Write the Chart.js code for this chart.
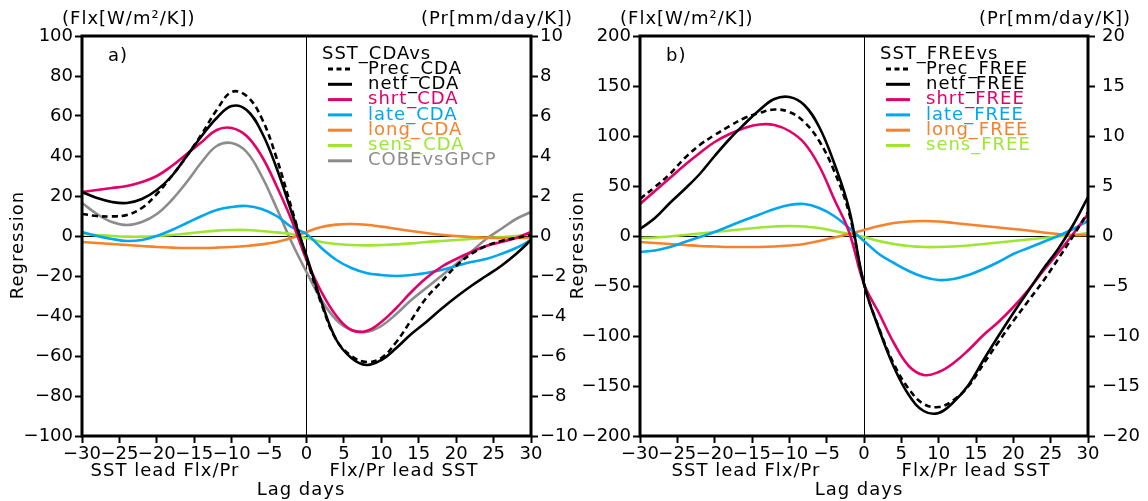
<!DOCTYPE html>
<html>
<head>
<meta charset="utf-8">
<script src="https://cdn.jsdelivr.net/npm/chart.js@4.4.1/dist/chart.umd.min.js"></script>
<style>
  html, body { margin: 0; padding: 0; background: #fff; }
  #wrap { position: relative; width: 1148px; height: 501px; overflow: hidden; }
  .panel { position: absolute; top: 0; height: 501px; }
  #boxA { left: 0; width: 600px; }
  #boxB { left: 560px; width: 588px; }
</style>
</head>
<body>
<div id="wrap">
  <div class="panel" id="boxA"><canvas id="chartA" width="600" height="501"></canvas></div>
  <div class="panel" id="boxB"><canvas id="chartB" width="588" height="501"></canvas></div>
</div>
<script>
// lag in days (negative = SST leads flux/precip)
const lagDays = [-30, -28, -26, -24, -22, -20, -18, -16, -14, -12, -10, -8, -6, -4, -2, 0,
                 2, 4, 6, 8, 10, 12, 14, 16, 18, 20, 22, 24, 26, 28, 30];

// panel a) SST_CDA regressions (flux W/m2/K, precip mm/day/K)
const precCDA  = [1.1, 1.0, 0.98, 1.05, 1.4, 2.1, 3.0, 4.0, 5.1, 6.3, 7.2, 7.0, 5.9, 3.9, 1.4, -1.1,
                  -3.4, -5.2, -6.0, -6.3, -6.1, -5.3, -4.2, -3.1, -2.3, -1.5, -0.9, -0.5, -0.25, -0.1, 0.05];
const netfCDA  = [22, 19, 17, 16.5, 18.5, 23, 30, 40, 50, 59, 65, 63, 52, 34, 12, -10,
                  -33, -52, -61, -64.5, -62, -56, -49, -43, -36.5, -30.5, -25, -20, -15, -9, -2];
const shrtCDA  = [22, 23, 24, 25, 27, 30, 35, 41, 47, 53, 54, 50, 40, 25, 8, -12,
                  -28, -40, -47, -47.5, -43, -36, -28, -21, -15.5, -11.5, -8, -5, -3, -1, 2];
const lateCDA  = [2, 0, -1.5, -2.5, -2, 0, 3, 6.5, 10, 13, 14.5, 15, 13.5, 10, 4.5, 1,
                  -6, -12, -16, -18.5, -19.5, -20, -19.5, -18.5, -17, -15, -13, -11.5, -9, -6, -2];
const longCDA  = [-3, -3.5, -4, -4.5, -5, -5.5, -5.8, -6, -6, -5.8, -5.5, -5, -4.2, -3, -1, 2,
                  4.5, 5.7, 6, 5.6, 4.7, 3.6, 2.5, 1.5, 0.6, 0, -0.5, -0.8, -1, -1, -1];
const sensCDA  = [1, 0.5, 0, -0.3, -0.3, 0, 0.5, 1.2, 2, 2.7, 3, 3, 2.5, 1.8, 1, -1,
                  -3, -4, -4.5, -4.7, -4.5, -4.2, -3.7, -3, -2.5, -2, -1.5, -1, -0.5, 0, 1];
const cobeGPCP = [1.65, 1.1, 0.7, 0.55, 0.7, 1.1, 1.8, 2.7, 3.7, 4.5, 4.65, 4.2, 3.0, 1.4, -0.3, -1.8,
                  -3.2, -4.2, -4.7, -4.8, -4.5, -3.9, -3.2, -2.6, -2.0, -1.4, -0.8, -0.15, 0.35, 0.85, 1.2];

// panel b) SST_FREE regressions
const precFREE = [3.7, 4.9, 6.2, 7.8, 9.1, 10.1, 11.0, 11.8, 12.3, 12.65, 12.4, 11.4, 9.5, 6.5, 2.3, -4.8,
                  -9.2, -12.8, -15.3, -16.8, -17.1, -16.4, -15.0, -12.8, -10.6, -8.5, -6.5, -4.5, -2.3, 0, 2.4];
const netfFREE = [7, 18, 33, 47, 62, 80, 97, 112, 126, 137, 139, 131, 109, 73, 27, -48,
                  -93, -131, -159, -175, -177, -166, -149, -124, -100, -77, -55, -33, -13, 11, 39];
const shrtFREE = [32, 45, 58, 71, 83, 94, 102, 108, 111.5, 111, 105, 93, 70, 37, 4, -48,
                  -77, -107, -130, -139, -136, -127, -114, -99, -86, -71, -54, -35, -17, 2, 22];
const lateFREE = [-16, -14.5, -11, -6, -1, 4, 10, 16, 21.5, 27, 31, 32, 28, 20, 8, -5,
                  -18, -27, -35, -41, -44, -43, -39, -33, -26, -18, -12, -6, 0, 7, 15];
const longFREE = [-6, -7, -8, -9, -10, -10.5, -11, -11, -11, -10.5, -9.5, -8, -5, -1.5, 2, 6,
                  10, 13, 14.5, 15, 14.5, 13, 11.5, 10, 8.5, 7, 5.5, 3.5, 2, 1, 1];
const sensFREE = [-2, -1.5, -0.5, 1, 2.5, 4, 5.5, 7, 8.5, 9.5, 10, 9.5, 8, 5, 2, -1,
                  -5, -8, -10, -11, -11, -10.5, -9.5, -8, -6.5, -5, -3.5, -2, -0.5, 1, 3];

// axis ranges [min, max, step]
const fluxAxisA = [-100, 100, 20];
const precAxisA = [-10, 10, 2];
const fluxAxisB = [-200, 200, 50];
const precAxisB = [-20, 20, 5];
const lagAxis   = [-30, 30, 5];

const COLORS = {
  black: '#000000',
  shrt: '#e2006a',
  late: '#00a6ee',
  long: '#f5822d',
  sens: '#9ee632',
  cobe: '#8c8c8c'
};

const FONT = 'DejaVu Sans';
const minusFmt = v => String(v).replace('-', '\u2212');
const toPoints = vals => vals.map((v, i) => ({ x: lagDays[i], y: v }));

function series(label, values, color, axis, dashed) {
  return {
    label: label,
    data: toPoints(values),
    borderColor: color,
    borderWidth: 2.6,
    borderDash: dashed ? [6, 4] : [],
    yAxisID: axis,
    pointRadius: 0,
    tension: 0.4,
    fill: false
  };
}

// draws the frame, unit labels, legend and axis captions the way GrADS lays them out
const panelText = {
  id: 'panelText',
  afterDatasetsDraw(chart, args, o) {
    const ctx = chart.ctx;
    const a = chart.chartArea;
    const L = a.left;
    ctx.save();
    ctx.strokeStyle = '#000';
    ctx.lineWidth = 3;
    ctx.strokeRect(a.left, a.top, a.right - a.left, a.bottom - a.top);

    ctx.fillStyle = '#000';
    ctx.font = '18px "' + FONT + '"';
    ctx.letterSpacing = '1px';
    ctx.textBaseline = 'middle';
    ctx.textAlign = 'left';
    ctx.fillText('(Flx[W/m\u00b2/K])', L - 20, 19);
    ctx.fillText('(Pr[mm/day/K])', L + 339, 19);
    ctx.fillText(o.tag, L + 26, 56);

    // legend
    ctx.fillText(o.legendTitle, L + 240, 54);
    chart.data.datasets.forEach((ds, i) => {
      const y = 69 + 15.3 * i;
      ctx.save();
      ctx.strokeStyle = ds.borderColor;
      ctx.lineWidth = 3;
      ctx.setLineDash(ds.borderDash.length ? [5, 3.5] : []);
      ctx.beginPath();
      ctx.moveTo(L + 246, y);
      ctx.lineTo(L + 270, y);
      ctx.stroke();
      ctx.restore();
      ctx.fillStyle = ds.borderColor;
      ctx.fillText(ds.label, L + 286, y);
    });

    // lag captions
    ctx.fillStyle = '#000';
    ctx.textAlign = 'center';
    ctx.fillText('SST lead Flx/Pr', L + o.leadLeft, 471);
    ctx.fillText('Flx/Pr lead SST', L + o.leadRight, 471);
    ctx.fillText('Lag days', L + 219, 490);

    ctx.translate(L + o.regX, 245);
    ctx.rotate(-Math.PI / 2);
    ctx.fillText('Regression', 0, 0);
    ctx.restore();
  }
};

function zeroGrid(c) {
  return c.tick && c.tick.value === 0 ? '#000' : 'rgba(0,0,0,0)';
}

function makePanel(id, datasets, fluxAxis, precAxis, leftW, rightW, rightPad, text) {
  const tickFont = { family: FONT, size: 18 };
  return new Chart(document.getElementById(id), {
    type: 'line',
    data: { datasets: datasets },
    options: {
      responsive: false,
      animation: false,
      events: [],
      layout: { padding: { top: 36, left: 0, right: 0, bottom: 0 } },
      scales: {
        x: {
          type: 'linear',
          min: lagAxis[0], max: lagAxis[1],
          ticks: { stepSize: lagAxis[2], autoSkip: false, maxRotation: 0, padding: 1,
                   color: '#000', font: tickFont, callback: minusFmt },
          grid: { color: zeroGrid, lineWidth: 1, tickColor: '#000', tickLength: 7, tickWidth: 2 },
          border: { display: false },
          afterFit(s) { s.height = 65; }
        },
        y: {
          position: 'left',
          min: fluxAxis[0], max: fluxAxis[1],
          ticks: { stepSize: fluxAxis[2], padding: 2, color: '#000', font: tickFont, callback: minusFmt },
          grid: { color: zeroGrid, lineWidth: 1, tickColor: '#000', tickLength: 7, tickWidth: 2 },
          border: { display: false },
          afterFit(s) { s.width = leftW; }
        },
        y2: {
          position: 'right',
          min: precAxis[0], max: precAxis[1],
          ticks: { stepSize: precAxis[2], padding: rightPad, color: '#000', font: tickFont, callback: minusFmt },
          grid: { drawOnChartArea: false, tickColor: '#000', tickLength: 7, tickWidth: 2 },
          border: { display: false },
          afterFit(s) { s.width = rightW; }
        }
      },
      plugins: {
        legend: { display: false },
        tooltip: { enabled: false },
        panelText: text
      }
    },
    plugins: [panelText]
  });
}

makePanel('chartA', [
  series('Prec_CDA', precCDA, COLORS.black, 'y2', true),
  series('netf_CDA', netfCDA, COLORS.black, 'y'),
  series('shrt_CDA', shrtCDA, COLORS.shrt, 'y'),
  series('late_CDA', lateCDA, COLORS.late, 'y'),
  series('long_CDA', longCDA, COLORS.long, 'y'),
  series('sens_CDA', sensCDA, COLORS.sens, 'y'),
  series('COBEvsGPCP', cobeGPCP, COLORS.cobe, 'y2')
], fluxAxisA, precAxisA, 82, 69, 2,
  { tag: 'a)', legendTitle: 'SST_CDAvs', leadLeft: 83, leadRight: 322, regX: -64 });

makePanel('chartB', [
  series('Prec_FREE', precFREE, COLORS.black, 'y2', true),
  series('netf_FREE', netfFREE, COLORS.black, 'y'),
  series('shrt_FREE', shrtFREE, COLORS.shrt, 'y'),
  series('late_FREE', lateFREE, COLORS.late, 'y'),
  series('long_FREE', longFREE, COLORS.long, 'y'),
  series('sens_FREE', sensFREE, COLORS.sens, 'y')
], fluxAxisB, precAxisB, 80, 60, 7,
  { tag: 'b)', legendTitle: 'SST_FREEvs', leadLeft: 106, leadRight: 336, regX: -62 });
</script>
</body>
</html>
